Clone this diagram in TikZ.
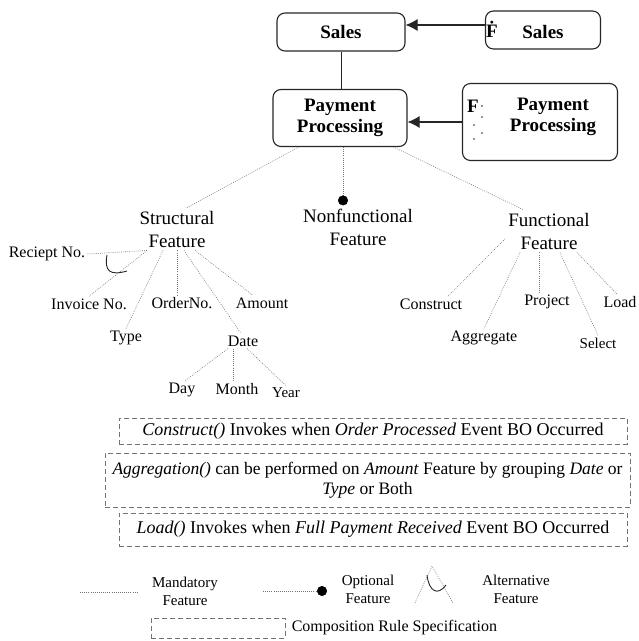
\documentclass[tikz,border=0pt]{standalone}
\usepackage{fontspec}
\setmainfont{Liberation Serif}
\usetikzlibrary{positioning,arrows.meta}
\definecolor{lineblack}{gray}{0.15}
\definecolor{dotgray}{gray}{0.45}

\begin{document}
\begin{tikzpicture}[x=1pt, y=-1pt, semithick,
  box/.style={rectangle, rounded corners=8pt, draw=lineblack, line width=1.1pt, align=center, font=\fontsize{19}{21}\selectfont\bfseries},
  boxtext/.style={align=center, inner sep=1pt, font=\fontsize{19}{21}\selectfont\bfseries},
  feat/.style={align=center, inner sep=3pt, font=\fontsize{19}{23}\selectfont},
  leaf/.style={inner sep=2pt, font=\fontsize{16}{18}\selectfont},
  mand/.style={dotgray, line width=0.6pt, dash pattern=on 0.8pt off 1.3pt},
  opt/.style={mand, -{Circle[length=10pt, black]}},
  alt/.style={lineblack, line width=0.9pt},
  arr/.style={lineblack, line width=1.1pt, -{Latex[length=12pt, width=12pt]}},
  rule/.style={draw=dotgray, line width=0.9pt, dash pattern=on 5pt off 3pt, align=center, inner sep=0pt, font=\fontsize{18}{20}\selectfont},
  key/.style={align=center, inner sep=1pt, font=\fontsize{15}{18}\selectfont}]
  \useasboundingbox (0,0) rectangle (639,641);

  % business object and its feature model
  \node[box, minimum width=128, minimum height=38] (sales) at (341,32) {Sales};
  \node[box, minimum width=134, minimum height=57] (pay) at (340,118) {Payment\\Processing};
  \node[box, minimum width=115, minimum height=38] (fsales) at (543,30) {};
  \node[box, minimum width=155, minimum height=77] (fpay) at (540,122) {};
  \node[boxtext] (fsalesF) at (492,29) {\.{F}};
  \node[boxtext] (fsalesname) at (543,32) {Sales};
  \node[boxtext] (fpayF) at (473,106) {F};
  \node[boxtext] (fpayname) at (553,117) {Payment\\Processing};
  \foreach \px/\py in {482/106, 482/117, 474/125, 482/133, 474/139}
    \fill[lineblack] (\px,\py) circle (0.8);

  \draw[lineblack, line width=1pt] (sales.south) -- (sales.south |- pay.north);
  \draw[arr] ([yshift=5pt]fsales.west) -- ([yshift=7pt]sales.east);
  \draw[arr] (fpay.west) -- (fpay.west -| pay.east);

  % features
  \node[feat] (sf) at (177,229) {Structural\\Feature};
  \node[feat] (nf) at (358,227) {Nonfunctional\\Feature};
  \node[feat] (ff) at (549,231) {Functional\\Feature};

  \draw[mand] ([xshift=26pt]pay.south west) -- ([xshift=10pt]sf.north);
  \draw[opt] ([xshift=3pt]pay.south) -- ([xshift=-15pt]nf.north);
  \draw[mand] ([xshift=-14pt]pay.south east) -- ([xshift=-26pt]ff.north);

  \node[leaf] (rno) at (47,254) {Reciept No.};
  \node[leaf] (inv) at (89,304) {Invoice No.};
  \node[leaf] (type) at (126,338) {Type};
  \node[leaf] (ord) at (182,303) {OrderNo.};
  \node[leaf] (amt) at (262,303) {Amount};
  \node[leaf] (date) at (243,341) {Date};
  \node[leaf] (day) at (182,390) {Day};
  \node[leaf] (month) at (237,389) {Month};
  \node[leaf, font=\fontsize{15}{17}\selectfont] (year) at (286,393) {Year};

  \draw[mand] ([xshift=-30pt]sf.south) -- (rno.east);
  \draw[mand] ([xshift=-30pt]sf.south) -- (inv.north);
  \draw[mand] ([xshift=-14pt]sf.south) -- (type.north);
  \draw[mand] (sf.south) -- (sf.south |- ord.north);
  \draw[mand] ([xshift=7pt]sf.south) -- ([xshift=-2pt]date.north);
  \draw[mand] ([xshift=18pt]sf.south) -- ([xshift=-9pt]amt.north);
  \draw[alt] (107,255) .. controls (104,271) and (110,276) .. (127,271);
  \draw[mand] ([xshift=-15pt]date.south) -- ([xshift=3pt]day.north);
  \draw[mand] ([xshift=-10pt]date.south) -- ([xshift=-4pt]month.north);
  \draw[mand] ([xshift=4pt]date.south) -- (year.north);

  \node[leaf] (cons) at (431,304) {Construct};
  \node[leaf] (agg) at (484,338) {Aggregate};
  \node[leaf] (proj) at (547,302) {Project};
  \node[leaf, font=\fontsize{15}{17}\selectfont] (sel) at (598,343) {Select};
  \node[leaf] (load) at (620,302) {Load};

  \draw[mand] (ff.190) -- ([xshift=17pt]cons.north);
  \draw[mand] ([xshift=-29pt]ff.south) -- (agg.north);
  \draw[mand] ([xshift=-10pt]ff.south) -- ([xshift=-8pt]proj.north);
  \draw[mand] ([xshift=11pt]ff.south) -- (sel.north);
  \draw[mand] ([xshift=28pt]ff.south) -- ([xshift=-3pt]load.north);

  % composition rules
  \node[rule, minimum width=508, minimum height=26] (rule1) at (373,431)
    {\textit{Construct()} Invokes when \textit{Order Processed} Event BO Occurred};
  \node[rule, minimum width=525, minimum height=54, font=\fontsize{17.5}{20}\selectfont] (rule2) at (367.5,480)
    {\textit{Aggregation()} can be performed on \textit{Amount} Feature by grouping \textit{Date} or\\\textit{Type} or Both};
  \node[rule, minimum width=508, minimum height=33] (rule3) at (373,529.5)
    {\textit{Load()} Invokes when \textit{Full Payment Received} Event BO Occurred};

  % legend
  \coordinate (m1) at (80,592);
  \coordinate (m2) at (138,592);
  \draw[mand] (m1) -- (m2);
  \node[key] (mandlbl) at (185,591) {Mandatory\\Feature};
  \coordinate (o1) at (263,591);
  \coordinate (o2) at (327,591);
  \draw[opt] (o1) -- (o2);
  \node[key] (optlbl) at (368,589) {Optional\\Feature};
  \coordinate (a0) at (432,566);
  \coordinate (a1) at (415,603);
  \coordinate (a2) at (453,603);
  \draw[mand] (a1) -- (a0) -- (a2);
  \draw[alt] (427,575) .. controls (429,592) and (438,596) .. (446,585);
  \node[key] (altlbl) at (516,589) {Alternative\\Feature};
  \node[draw=dotgray, line width=0.9pt, dash pattern=on 5pt off 3pt, minimum width=134, minimum height=20] (rulekey) at (218,628) {};
  \node[key, font=\fontsize{16}{18}\selectfont, right=5pt of rulekey] (rulelbl) {Composition Rule Specification};
\end{tikzpicture}
\end{document}
